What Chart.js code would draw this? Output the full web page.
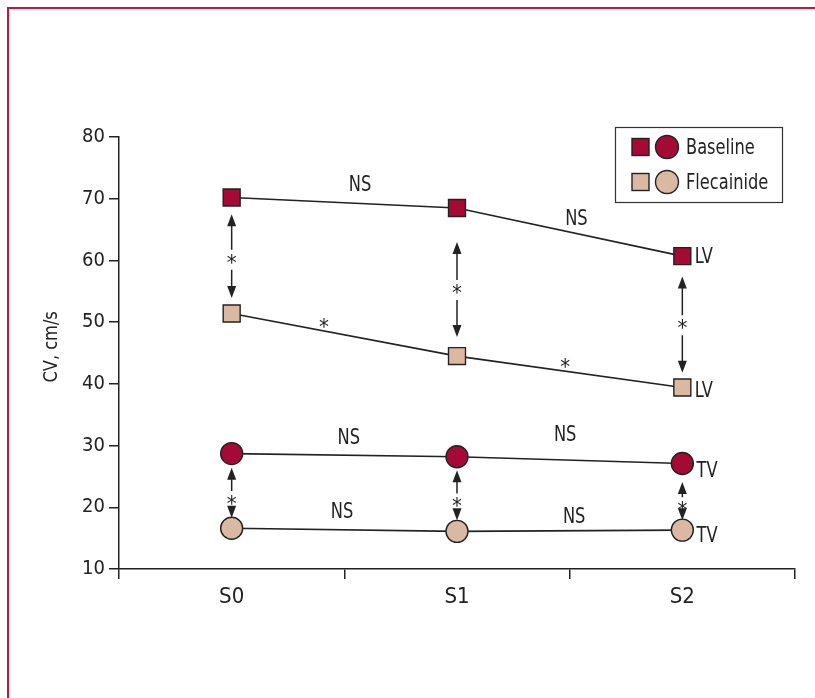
<!DOCTYPE html>
<html>
<head>
<meta charset="utf-8">
<script src="https://cdn.jsdelivr.net/npm/chart.js@4/dist/chart.umd.min.js"></script>
<style>
  html, body { margin: 0; padding: 0; background: #fff; }
  #wrap { position: relative; width: 815px; height: 698px; overflow: hidden; }
  #frame { position: absolute; left: 7px; top: 7px; right: -10px; bottom: -10px;
           border-left: 2px solid #c8163f; border-top: 2px solid #c8163f; pointer-events: none; }
  canvas { position: absolute; left: 0; top: 0; }
</style>
</head>
<body>
<div id="wrap">
  <canvas id="myChart" width="815" height="698"></canvas>
  <div id="frame"></div>
</div>
<script>
const categories = ['S0', 'S1', 'S2'];
const baselineLV = [70.2, 68.5, 60.7];
const flecainideLV = [51.4, 44.5, 39.4];
const baselineTV = [28.7, 28.2, 27.1];
const flecainideTV = [16.6, 16.1, 16.3];
const yMin = 10;
const yMax = 80;
const yStep = 10;

// vertical double arrows: [category index, top tip, star, bottom tip]
const arrows = [
  [0, 67.5, 60.1, 53.9],
  [1, 63.0, 55.2, 47.6],
  [2, 57.4, 49.5, 41.8],
  [0, 26.4, 21.0, 18.3],
  [1, 26.0, 20.6, 17.9],
  [2, 24.1, 20.0, 17.9]
];

// text notes: [text, category position, value]
const notes = [
  ['NS', 0.57, 72.2],
  ['NS', 1.53, 66.6],
  ['*', 0.41, 49.6],
  ['*', 1.48, 43.1],
  ['NS', 0.52, 31.2],
  ['NS', 1.48, 31.7],
  ['NS', 0.49, 19.1],
  ['NS', 1.52, 18.3],
  ['LV', 2.095, 60.4],
  ['LV', 2.095, 38.8],
  ['TV', 2.11, 25.8],
  ['TV', 2.11, 15.2]
];

const red = '#a50a35';
const tan = '#dbb8a2';
const ink = '#222222';
const fontFamily = "'Liberation Sans Narrow', 'DejaVu Sans Condensed', 'Liberation Sans', sans-serif";

function series(data, style, fill, radius) {
  return {
    data: data,
    borderColor: ink,
    borderWidth: 1.6,
    pointStyle: style,
    pointRadius: radius,
    pointHoverRadius: radius,
    pointBackgroundColor: fill,
    pointBorderColor: ink,
    pointBorderWidth: 1.4,
    tension: 0
  };
}

function drawText(ctx, text, x, y, size, sx, align) {
  ctx.save();
  ctx.translate(x, y);
  ctx.scale(sx, 1);
  ctx.font = size + 'px ' + fontFamily;
  ctx.textAlign = align || 'center';
  ctx.textBaseline = 'middle';
  ctx.fillText(text, 0, 0);
  ctx.restore();
}

const extras = {
  id: 'extras',
  afterDatasetsDraw(chart) {
    const ctx = chart.ctx;
    const xs = chart.scales.x;
    const ys = chart.scales.y;
    ctx.save();

    // arrows with stars
    ctx.strokeStyle = ink;
    ctx.fillStyle = ink;
    ctx.lineWidth = 1.5;
    arrows.forEach(a => {
      const x = xs.getPixelForValue(a[0]);
      const top = ys.getPixelForValue(a[1]);
      const mid = ys.getPixelForValue(a[2]);
      const bot = ys.getPixelForValue(a[3]);
      const gap = Math.min(10, (bot - top) / 2 - 8);
      ctx.beginPath();
      ctx.moveTo(x, top + 8);
      ctx.lineTo(x, mid - gap);
      ctx.moveTo(x, mid + gap);
      ctx.lineTo(x, bot - 8);
      ctx.stroke();
      ctx.beginPath();
      ctx.moveTo(x, top);
      ctx.lineTo(x - 4.5, top + 12);
      ctx.lineTo(x + 4.5, top + 12);
      ctx.closePath();
      ctx.fill();
      ctx.beginPath();
      ctx.moveTo(x, bot);
      ctx.lineTo(x - 4.5, bot - 12);
      ctx.lineTo(x + 4.5, bot - 12);
      ctx.closePath();
      ctx.fill();
      drawText(ctx, '*', x, mid + 4, 22, 1);
    });

    // notes
    notes.forEach(n => {
      const x = xs.getPixelForValue(n[1]);
      const y = ys.getPixelForValue(n[2]);
      if (n[0] === '*') drawText(ctx, '*', x, y + 4, 22, 1);
      else drawText(ctx, n[0], x, y, 21, 0.86);
    });

    // y axis title
    ctx.save();
    ctx.translate(52, ys.getPixelForValue(46));
    ctx.rotate(-Math.PI / 2);
    drawText(ctx, 'CV, cm/s', 0, 0, 20, 0.9);
    ctx.restore();

    // legend
    ctx.lineWidth = 1.2;
    ctx.strokeStyle = '#333';
    ctx.strokeRect(615.5, 127.5, 167, 75);
    const rows = [['Baseline', red, 147], ['Flecainide', tan, 182]];
    rows.forEach(r => {
      ctx.fillStyle = r[1];
      ctx.strokeStyle = ink;
      ctx.lineWidth = 1.4;
      ctx.fillRect(632, r[2] - 8.5, 17, 17);
      ctx.strokeRect(632, r[2] - 8.5, 17, 17);
      ctx.beginPath();
      ctx.arc(667, r[2], 11.5, 0, Math.PI * 2);
      ctx.fill();
      ctx.stroke();
      ctx.fillStyle = ink;
      drawText(ctx, r[0], 686, r[2] + 1, 22, 0.82, 'left');
    });
    ctx.restore();
  }
};

new Chart(document.getElementById('myChart').getContext('2d'), {
  type: 'line',
  data: {
    labels: categories,
    datasets: [
      series(baselineLV, 'rect', red, 12),
      series(flecainideLV, 'rect', tan, 12),
      series(baselineTV, 'circle', red, 11),
      series(flecainideTV, 'circle', tan, 11)
    ]
  },
  options: {
    responsive: false,
    animation: false,
    events: [],
    layout: { padding: { top: 137, right: 20, left: 0, bottom: 0 } },
    plugins: { legend: { display: false }, tooltip: { enabled: false } },
    scales: {
      x: {
        offset: true,
        afterFit(scale) { scale.height = 129; },
        grid: { offset: true, drawOnChartArea: false, tickLength: 10, color: ink, lineWidth: 1.5 },
        border: { display: true, color: ink, width: 1.5 },
        ticks: { color: ink, padding: 5, font: { family: fontFamily, size: 22 } }
      },
      y: {
        min: yMin,
        max: yMax,
        afterFit(scale) { scale.width = 119; },
        grid: { drawOnChartArea: false, tickLength: 10, color: ink, lineWidth: 1.5 },
        border: { display: true, color: ink, width: 1.5 },
        ticks: { stepSize: yStep, color: ink, padding: 4, font: { family: fontFamily, size: 20 } }
      }
    }
  },
  plugins: [extras]
});
</script>
</body>
</html>
